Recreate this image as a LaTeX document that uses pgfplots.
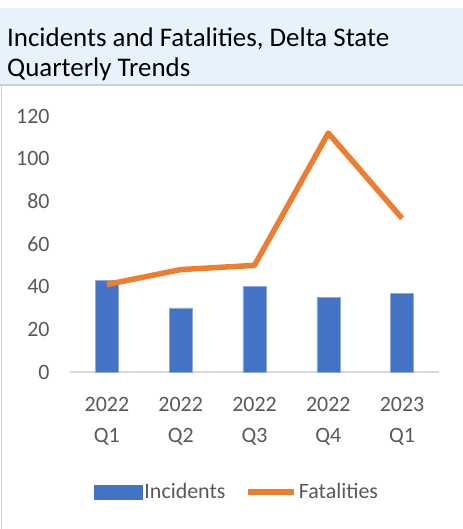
\documentclass[border=0pt]{standalone}
\usepackage{fontspec}
\setmainfont{Carlito}
\usepackage{pgfplots}
\pgfplotsset{compat=1.18}
\definecolor{barblue}{HTML}{4472C4}
\definecolor{lineorange}{HTML}{ED7D31}
\definecolor{titlebg}{HTML}{E8F2FC}
\definecolor{txtgray}{HTML}{595959}
\definecolor{axgray}{HTML}{D9D9D9}
\definecolor{framegray}{HTML}{D0D0D0}

\begin{document}
\begin{tikzpicture}
\path[use as bounding box] (0bp,0bp) rectangle (463bp,529bp);
% title band and frame
\fill[titlebg] (0bp,444bp) rectangle (463bp,521bp);
\draw[framegray, line width=1.5bp] (0bp,444bp) -- (463bp,444bp);
\draw[framegray, line width=1.5bp] (1.5bp,0bp) -- (1.5bp,444bp);
\node[anchor=base west, inner sep=0pt, font=\fontsize{27}{31}\selectfont] at (7bp,482bp) {Incidents and Fatalities, Delta State};
\node[anchor=base west, inner sep=0pt, font=\fontsize{27}{31}\selectfont] at (7bp,452bp) {Quarterly Trends};

\begin{axis}[
    at={(70bp,157bp)}, anchor=south west,
    scale only axis, width=369bp, height=256bp,
    xmin=-0.5, xmax=4.5, ymin=0, ymax=120,
    clip=false,
    axis lines=left,
    axis line style={-},
    y axis line style={draw=none},
    x axis line style={draw=axgray, line width=2bp},
    major tick length=0pt,
    ytick={0,20,...,120},
    xtick={0,1,2,3,4},
    xticklabels={{2022\\Q1},{2022\\Q2},{2022\\Q3},{2022\\Q4},{2023\\Q1}},
    tick label style={font=\fontsize{22}{31}\selectfont, text=txtgray},
    /pgf/number format/assume math mode=true,
    yticklabel style={xshift=-17bp},
    xticklabel style={align=center, yshift=-22bp},
    legend style={at={(0.4526,-0.469)}, anchor=center, draw=none, fill=none,
        legend columns=-1, font=\fontsize{22}{26}\selectfont, text=txtgray,
        /tikz/every even column/.append style={column sep=18bp}},
]
\addplot[ybar, bar width=23bp, fill=barblue, draw=barblue!60!white, line width=0.5bp,
    legend image code/.code={\fill[barblue] (0bp,-7bp) rectangle (48bp,7bp);}]
    coordinates {(0,43) (1,30) (2,40) (3,35) (4,37)};
\addlegendentry{Incidents}
\addplot[lineorange, line width=5.5bp, mark=none, line join=round,
    legend image code/.code={\draw[lineorange, line width=5.5bp] (0bp,0bp) -- (46bp,0bp);}]
    coordinates {(0,41) (1,48) (2,50) (3,112) (4,72)};
\addlegendentry{Fatalities}
\end{axis}
\end{tikzpicture}
\end{document}
